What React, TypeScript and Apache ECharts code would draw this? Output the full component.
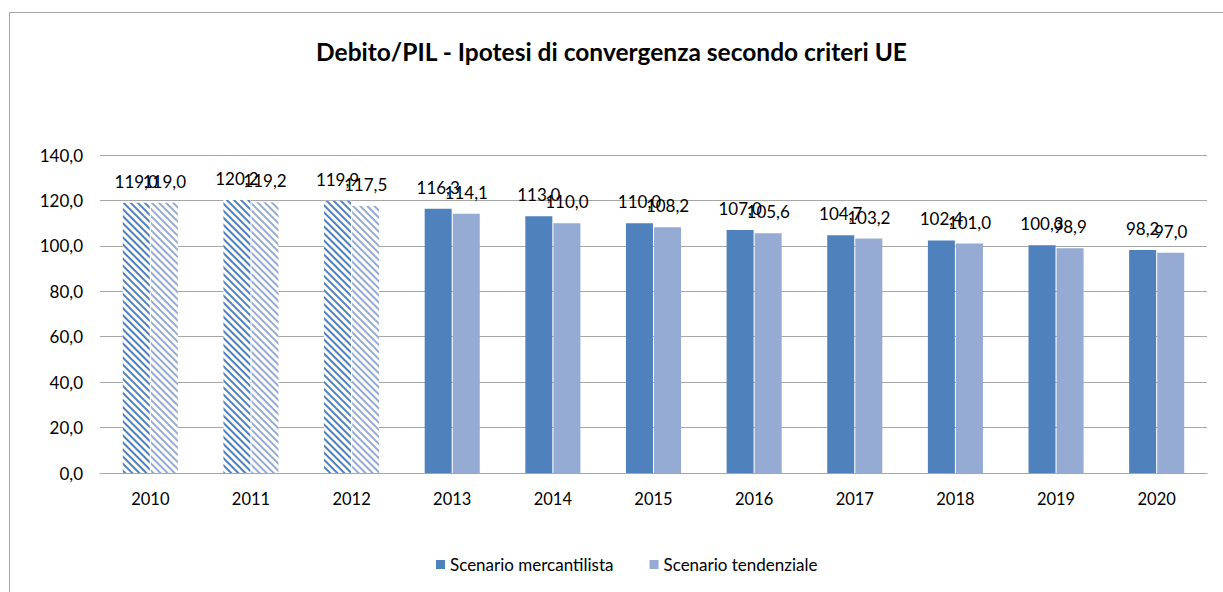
import React, { useEffect, useRef } from "react";
import * as echarts from "echarts";

const years = ["2010", "2011", "2012", "2013", "2014", "2015", "2016", "2017", "2018", "2019", "2020"];
const mercantilista = [119.0, 120.2, 119.9, 116.3, 113.0, 110.0, 107.0, 104.7, 102.4, 100.3, 98.2];
const tendenziale = [119.0, 119.2, 117.5, 114.1, 110.0, 108.2, 105.6, 103.2, 101.0, 98.9, 97.0];
const hatchedCount = 3;

const FONT = "Lato, 'Open Sans', sans-serif";
const C1 = "#4f81bd";
const C2 = "#95abd3";

const fmt = (v: number) => v.toFixed(1).replace(".", ",");

function buildData(values: number[], color: string) {
  return values.map((v, i) =>
    i < hatchedCount
      ? {
          value: v,
          itemStyle: {
            color: "#ffffff",
            decal: {
              symbol: "rect",
              symbolSize: 1,
              dashArrayX: [1, 0],
              dashArrayY: [1.5, 2.3],
              rotation: Math.PI / 4,
              color,
            },
          },
        }
      : { value: v }
  );
}

export default function App() {
  const ref = useRef<HTMLDivElement>(null);
  useEffect(() => {
    const chart = echarts.init(ref.current!, undefined, { renderer: "svg" });
    const label = {
      show: true,
      position: "top" as const,
      distance: 13,
      color: "#000",
      fontFamily: FONT,
      fontSize: 17,
      formatter: (p: any) => fmt(p.value),
    };
    chart.setOption({
      animation: false,
      backgroundColor: "#ffffff",
      textStyle: { fontFamily: FONT },
      graphic: [
        {
          type: "rect",
          shape: { x: 9.5, y: 12.5, width: 1400, height: 800 },
          style: { fill: "none", stroke: "#a6a6a6", lineWidth: 1 },
          silent: true,
        },
      ],
      title: {
        text: "Debito/PIL - Ipotesi di convergenza secondo criteri UE",
        left: "center",
        top: 34,
        textStyle: { fontFamily: FONT, fontSize: 24.5, fontWeight: "bold", color: "#000" },
      },
      legend: {
        bottom: 14,
        left: 431,
        itemWidth: 9,
        itemHeight: 9,
        itemGap: 36,
        icon: "rect",
        textStyle: { fontFamily: FONT, fontSize: 17, color: "#000" },
        data: ["Scenario mercantilista", "Scenario tendenziale"],
      },
      grid: { left: 100, right: 16, top: 155, bottom: 119 },
      xAxis: {
        type: "category",
        data: years,
        axisLine: { lineStyle: { color: "#a6a6a6", width: 1 } },
        axisTick: { show: false },
        axisLabel: { color: "#000", fontSize: 16.5, fontFamily: FONT, margin: 17 },
      },
      yAxis: {
        type: "value",
        min: 0,
        max: 140,
        interval: 20,
        axisLine: { show: false },
        axisTick: { show: false },
        splitLine: { lineStyle: { color: "#a6a6a6", width: 1 } },
        axisLabel: { color: "#000", fontSize: 17, fontFamily: FONT, margin: 17, formatter: (v: number) => fmt(v) },
      },
      series: [
        {
          name: "Scenario mercantilista",
          type: "bar",
          data: buildData(mercantilista, C1),
          itemStyle: { color: C1 },
          barWidth: 27,
          barGap: "4%",
          label,
        },
        {
          name: "Scenario tendenziale",
          type: "bar",
          data: buildData(tendenziale, C2),
          itemStyle: { color: C2 },
          barWidth: 27,
          label,
        },
      ],
    });
    return () => chart.dispose();
  }, []);
  return <div ref={ref} style={{ position: "fixed", left: 0, top: 0, width: 1223, height: 592 }} />;
}
